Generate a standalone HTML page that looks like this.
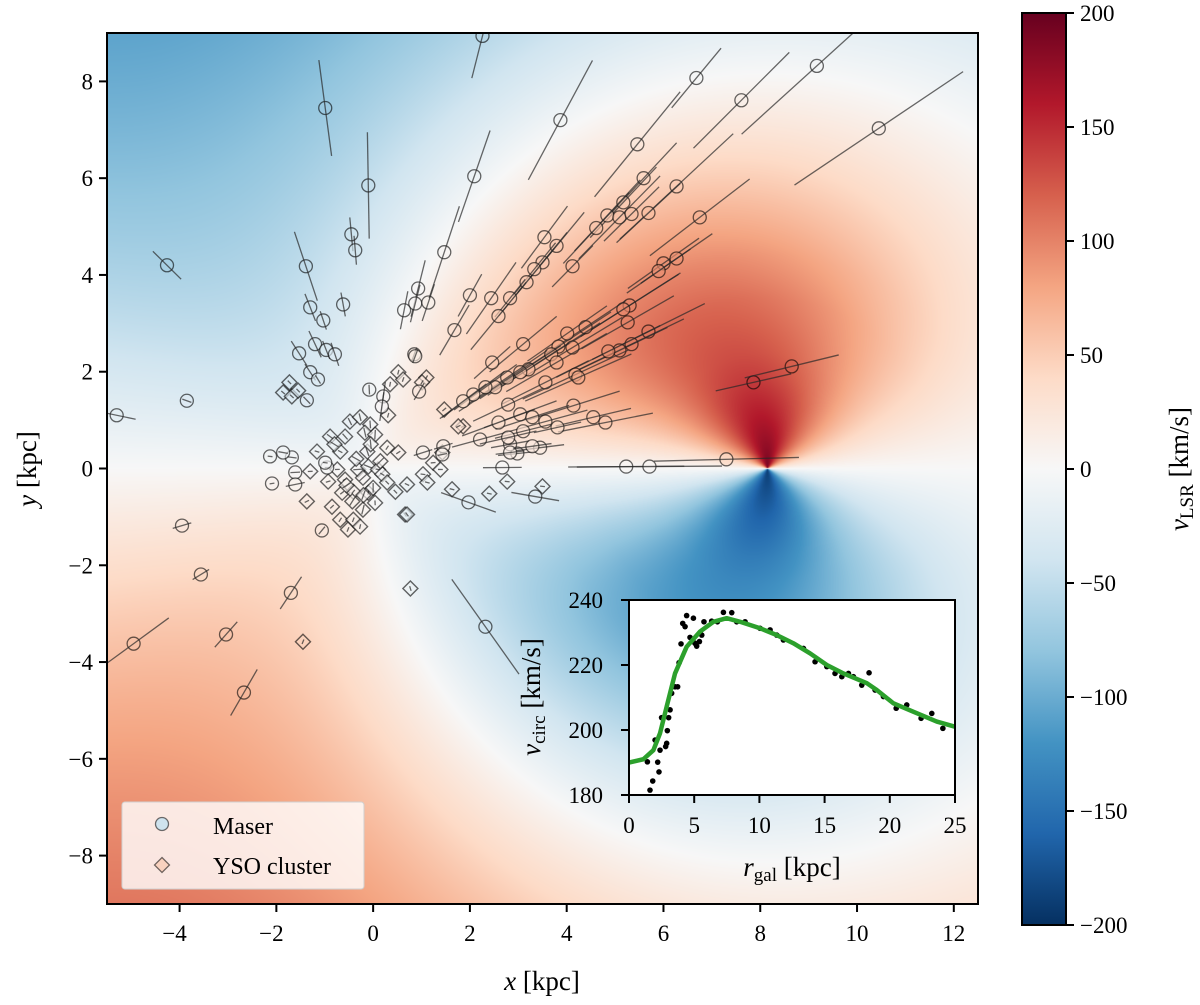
<!DOCTYPE html>
<html><head><meta charset="utf-8"><style>
body{margin:0;background:#fff;width:1200px;height:1005px;overflow:hidden;font-family:"Liberation Serif",serif}
#wrap{position:relative;width:1200px;height:1005px}
canvas{position:absolute;left:107px;top:33px}
svg{position:absolute;left:0;top:0}
text{font-family:"Liberation Serif",serif;fill:#000}
</style></head><body>
<div id="wrap">
<canvas id="field" width="871" height="871"></canvas>
<svg id="svg" width="1200" height="1005"></svg>
</div>
<script>
// ---- data ----
const masersX=[-0.99,-0.1,-0.45,-0.37,-4.26,-1.39,-1.3,-1.03,-0.62,0.93,0.87,1.14,0.64,-1.2,-0.97,-0.79,-1.53,0.85,-5.3,-3.85,-1.3,-1.14,-1.37,0.87,-0.08,0.21,0.18,0.95,-0.95,-2.09,-1.61,-1.68,-1.86,-2.13,-1.06,-1.61,1.03,1.45,1.43,1.97,-0.99,-3.95,-3.56,-1.7,-4.95,-3.04,-2.67,2.32,3.35,2.67,2.98,3.45,2.83,2.26,3.87,2.09,1.47,6.68,9.17,7.61,10.45,5.46,5.59,6.27,5.17,4.84,5.09,5.34,5.69,4.61,6.75,3.54,3.79,3.5,3.33,3.17,4.12,2.0,2.44,2.83,2.59,1.68,6.0,6.27,5.9,5.3,5.17,5.26,5.69,4.39,4.01,3.1,5.34,5.09,4.86,4.12,3.83,3.68,3.79,2.46,3.21,3.04,2.77,2.52,2.32,2.07,1.86,3.56,4.18,4.24,2.79,4.14,4.55,4.8,3.04,3.29,3.56,3.81,2.59,3.1,2.21,2.79,2.83,3.29,5.23,5.71,7.3,7.86,8.65];
const masersY=[7.45,5.85,4.84,4.51,4.2,4.18,3.33,3.06,3.39,3.72,3.41,3.43,3.27,2.57,2.45,2.36,2.38,2.36,1.1,1.4,1.99,1.84,1.41,2.32,1.63,1.49,1.28,1.59,0.02,-0.31,-0.08,0.23,0.33,0.25,-1.28,-0.33,0.33,0.46,0.29,-0.7,0.12,-1.18,-2.19,-2.57,-3.62,-3.43,-4.63,-3.27,-0.58,0.02,0.31,0.43,0.5,8.94,7.2,6.04,4.47,8.07,8.32,7.61,7.03,6.7,6.0,5.83,5.5,5.23,5.19,5.26,5.28,4.97,5.19,4.78,4.6,4.26,4.12,3.85,4.18,3.58,3.52,3.52,3.15,2.86,4.24,4.34,4.08,3.37,3.29,3.02,2.83,2.92,2.79,2.57,2.57,2.44,2.42,2.5,2.52,2.36,2.19,2.19,2.05,1.99,1.88,1.68,1.68,1.53,1.39,1.78,1.94,1.88,1.32,1.3,1.06,0.95,1.12,1.06,0.97,0.85,0.95,0.77,0.6,0.64,0.33,0.46,0.04,0.04,0.19,1.78,2.11];
const masersErr=[1.0,1.1,0.35,0.3,0.41,0.75,0.3,0.2,0.25,0.6,0.4,0.4,0.4,0.3,0.2,0.25,0.3,0.15,0.4,0.1,0.2,0.1,0.1,0.15,0.1,0.3,0.3,0.2,0.05,0.05,0.1,0.1,0.1,0.05,0.1,0.2,0.2,0.2,0.1,0.6,0.05,0.2,0.2,0.4,0.9,0.35,0.55,1.2,0.5,0.4,0.4,0.5,0.4,0.9,1.4,1.0,1.0,0.8,2.1,1.4,2.1,1.4,1.0,1.6,1.0,1.0,1.2,0.8,0.9,1.0,1.3,0.8,0.9,0.8,0.7,0.9,0.6,0.5,0.9,0.5,0.9,0.6,0.9,0.9,0.8,1.2,1.4,1.1,1.3,1.0,1.0,0.9,1.2,1.1,1.2,1.2,1.3,1.2,1.2,0.5,1.0,1.0,1.0,0.9,0.8,0.8,0.6,1.0,1.2,1.2,0.8,1.0,0.8,1.0,0.8,0.8,0.9,0.5,0.8,0.6,0.6,0.6,0.3,0.4,1.2,1.5,1.5,0.8,1.0];
const ysoX=[-1.73,-1.86,-1.68,-1.55,0.31,0.52,0.35,0.62,1.1,1.01,-0.48,-0.27,-0.06,-0.89,-0.58,-0.17,0.04,-1.16,-0.68,-0.12,0.29,0.52,-1.3,-0.74,-0.31,-0.1,0.1,-0.93,-0.58,-0.21,0.19,0.29,-0.64,-0.41,-0.1,0.46,0.7,-1.37,-0.85,-0.43,-0.21,0.04,-0.68,-0.41,-0.52,-0.27,0.66,1.03,1.24,1.39,1.12,1.63,1.86,2.4,2.77,3.5,0.7,-1.45,0.77,1.47,1.76,1.43,-0.35,-0.05,0.15,-0.55,-0.8,0.0,-0.2];
const ysoY=[1.78,1.57,1.49,1.61,1.1,1.99,1.74,1.84,1.88,1.78,0.97,1.06,0.91,0.66,0.66,0.74,0.7,0.35,0.35,0.35,0.43,0.33,-0.06,-0.02,-0.02,0.04,-0.02,-0.27,-0.23,-0.19,-0.12,-0.29,-0.5,-0.48,-0.5,-0.48,-0.33,-0.68,-0.79,-0.68,-0.85,-0.71,-1.06,-1.06,-1.26,-1.2,-0.95,-0.12,0.12,-0.02,-0.29,-0.43,0.87,-0.52,-0.27,-0.37,-0.95,-3.58,-2.48,1.22,0.87,0.33,0.2,0.5,0.15,-0.35,0.5,-0.4,-0.55];
const ysoErr=[0.05,0.05,0.05,0.05,0.05,0.05,0.05,0.05,0.05,0.05,0.08,0.08,0.08,0.08,0.08,0.1,0.1,0.05,0.05,0.1,0.05,0.05,0.05,0.05,0.1,0.1,0.05,0.05,0.05,0.1,0.05,0.05,0.05,0.05,0.05,0.05,0.05,0.05,0.05,0.1,0.1,0.05,0.05,0.05,0.05,0.05,0.05,0.05,0.05,0.05,0.05,0.05,0.05,0.05,0.05,0.05,0.05,0.05,0.05,0.05,0.05,0.05,0.1,0.1,0.1,0.1,0.1,0.1,0.1];
// inset rotation curve
const rcR=[1.41,1.61,1.82,2.0,2.2,2.3,2.38,2.5,2.81,2.89,2.94,3.04,3.15,3.27,3.53,3.73,3.84,3.99,4.12,4.3,4.42,4.68,4.94,5.06,5.19,5.4,5.58,5.75,6.34,6.78,7.24,7.88,8.26,8.9,10.05,10.82,11.33,11.84,13.38,14.27,15.17,15.8,16.32,16.83,17.21,17.85,18.41,18.87,19.51,20.49,21.3,22.4,23.22,24.07];
const rcV=[190.2,181.5,184.3,196.9,190.1,187.1,193.8,203.8,194.9,195.9,199.8,203.8,206.2,211.3,213.3,213.3,220.7,226.5,232.8,231.8,235.2,228.5,234.4,226.7,225.8,227.2,229.2,233.3,233.5,233.3,236.2,236.1,233.3,233.3,231.3,230.8,229.2,227.7,225.1,221.0,219.5,217.4,216.4,217.4,216.4,213.8,217.6,212.3,210.3,206.7,207.7,203.6,205.1,200.5];
const fitR=[0,1.1,1.87,2.38,2.89,3.53,4.42,5.45,6.47,7.49,8.52,10.05,11.33,12.6,13.88,15.17,16.45,18.24,19.0,20.28,21.82,23.6,25];
const fitV=[190,191,193.8,199,207.2,217.4,225.6,230.3,233.3,234.4,233.3,231.3,229.2,226.7,223.6,220,217.4,214.4,212.3,208.2,205.6,202.6,201];
const xTicks=[-4,-2,0,2,4,6,8,10,12];
const yTicks=[-8,-6,-4,-2,0,2,4,6,8];
const cbTicks=[-200,-150,-100,-50,0,50,100,150,200];
const inXTicks=[0,5,10,15,20,25];
const inYTicks=[180,200,220,240];
const R0=8.15;

// ---- scales ----
const PX0=107,PX1=978,PY0=33,PY1=904,XMIN=-5.5,XMAX=12.5,YMIN=-9,YMAX=9;
const sx=x=>PX0+(x-XMIN)/(XMAX-XMIN)*(PX1-PX0);
const sy=y=>PY1-(y-YMIN)/(YMAX-YMIN)*(PY1-PY0);
const IX0=629,IX1=955,IY0=600,IY1=795;
const ix=r=>IX0+r/25*(IX1-IX0);
const iy=v=>IY1-(v-180)/60*(IY1-IY0);
const CBX0=1022,CBX1=1066,CBY0=13,CBY1=925;
const cby=v=>CBY1-(v+200)/400*(CBY1-CBY0);

const cmap=["#053061","#2166ac","#4393c3","#92c5de","#d1e5f0","#f7f7f7","#fddbc7","#f4a582","#d6604d","#b2182b","#67001f"].map(h=>[parseInt(h.slice(1,3),16),parseInt(h.slice(3,5),16),parseInt(h.slice(5,7),16)]);
function col(v){let t=(v+200)/400;t=Math.max(0,Math.min(1,t))*10;const i=Math.min(9,Math.floor(t)),f=t-i;const a=cmap[i],b=cmap[i+1];return [a[0]+(b[0]-a[0])*f,a[1]+(b[1]-a[1])*f,a[2]+(b[2]-a[2])*f];}
function theta(R){if(R<=fitR[0])return fitV[0];for(let i=1;i<fitR.length;i++){if(R<=fitR[i]){const f=(R-fitR[i-1])/(fitR[i]-fitR[i-1]);return fitV[i-1]+f*(fitV[i]-fitV[i-1]);}}return fitV[fitV.length-1];}
const TH0=theta(R0);
function vlsr(x,y){const d=Math.hypot(x,y)||1e-6;const R=Math.max(Math.hypot(x-R0,y),1e-4);return (theta(R)*R0/R-TH0)*(y/d);}

// ---- field ----
const cv=document.getElementById('field'),ctx=cv.getContext('2d');
const img=ctx.createImageData(871,871);
for(let j=0;j<871;j++){const y=YMAX-(j+0.5)/871*(YMAX-YMIN);for(let i=0;i<871;i++){const x=XMIN+(i+0.5)/871*(XMAX-XMIN);const c=col(vlsr(x,y));const k=(j*871+i)*4;img.data[k]=c[0];img.data[k+1]=c[1];img.data[k+2]=c[2];img.data[k+3]=255;}}
ctx.putImageData(img,0,0);

// ---- svg ----
const NS="http://www.w3.org/2000/svg",svg=document.getElementById('svg');
function el(tag,attrs,parent){const e=document.createElementNS(NS,tag);for(const k in attrs)e.setAttribute(k,attrs[k]);(parent||svg).appendChild(e);return e;}
function txt(s,x,y,size,anchor,parent){const t=el('text',{x:x,y:y,'font-size':size,'text-anchor':anchor||'middle'},parent);t.innerHTML=s;return t;}
function rgb(c,a){return `rgba(${c[0]|0},${c[1]|0},${c[2]|0},${a})`;}

const clip=el('clipPath',{id:'mainclip'});el('rect',{x:PX0,y:PY0,width:PX1-PX0,height:PY1-PY0},clip);
const gPts=el('g',{'clip-path':'url(#mainclip)'});


function errLine(x,y,e,g){const d=Math.hypot(x,y);const ux=x/d,uy=y/d;const l=el('line',{x1:sx(ux*(d-e)),y1:sy(uy*(d-e)),x2:sx(ux*(d+e)),y2:sy(uy*(d+e)),stroke:'rgba(40,40,40,0.7)','stroke-width':1.3},g);

}
for(let i=0;i<ysoX.length;i++){const x=ysoX[i],y=ysoY[i];const px=sx(x),py=sy(y);const c=col(vlsr(x,y));
const p=el('polygon',{points:`${px},${py-7.5} ${px+7.5},${py} ${px},${py+7.5} ${px-7.5},${py}`,fill:rgb(c,0.65),stroke:'rgba(0,0,0,0.6)','stroke-width':1.4},gPts);


errLine(x,y,ysoErr[i],gPts);}
for(let i=0;i<masersX.length;i++){const x=masersX[i],y=masersY[i];const c=col(vlsr(x,y));
const m=el('circle',{cx:sx(x),cy:sy(y),r:6.5,fill:rgb(c,0.65),stroke:'rgba(0,0,0,0.6)','stroke-width':1.3},gPts);


errLine(x,y,masersErr[i],gPts);}

// main axes frame & ticks
const frame=el('rect',{x:PX0,y:PY0,width:PX1-PX0,height:PY1-PY0,fill:'none',stroke:'#000','stroke-width':2});


const gx=el('g',{});
xTicks.forEach(t=>{const X=sx(t);el('line',{x1:X,y1:PY1,x2:X,y2:PY1+8,stroke:'#000','stroke-width':2},gx);txt(t<0?'−'+(-t):''+t,X+(t<0?-5:0),941,23,'middle',gx);});
const gy=el('g',{});
yTicks.forEach(t=>{const Y=sy(t);el('line',{x1:PX0-8,y1:Y,x2:PX0,y2:Y,stroke:'#000','stroke-width':2},gy);txt(t<0?'−'+(-t):''+t,93,Y+8,23,'end',gy);});
const xl=txt('<tspan font-style="italic">x</tspan> [kpc]',542,990,27);
const yl=txt('<tspan font-style="italic">y</tspan> [kpc]',0,0,27);yl.setAttribute('transform','translate(36,469) rotate(-90)');

// legend
const lg=el('g',{});
el('rect',{x:122,y:802,width:242,height:87,rx:3,fill:'rgba(255,255,255,0.8)',stroke:'#d0d0d0','stroke-width':1},lg);
const lm=el('circle',{cx:162,cy:824,r:6.5,fill:'#cfe3ee',stroke:'rgba(0,0,0,0.55)','stroke-width':1.3},lg);
const ly=el('polygon',{points:'162,857.5 169.5,865 162,872.5 154.5,865',fill:'#f9d2bf',stroke:'rgba(0,0,0,0.55)','stroke-width':1.3},lg);
const t1=txt('Maser',213,834,24,'start',lg);
const t2=txt('YSO cluster',213,874,24,'start',lg);

// colorbar
const defs=el('defs',{});const lgd=el('linearGradient',{id:'cbg',x1:0,y1:1,x2:0,y2:0},defs);
cmap.forEach((c,i)=>el('stop',{offset:i/10,'stop-color':rgb(c,1)},lgd));
const cb=el('g',{});
el('rect',{x:CBX0,y:CBY0,width:CBX1-CBX0,height:CBY1-CBY0,fill:'url(#cbg)',stroke:'#000','stroke-width':2},cb);
cbTicks.forEach(t=>{const Y=cby(t);el('line',{x1:CBX1,y1:Y,x2:CBX1+8,y2:Y,stroke:'#000','stroke-width':2},cb);txt(t<0?'−'+(-t):''+t,1080,Y+8,23,'start',cb);});
const cbl=txt('<tspan font-style="italic">v</tspan><tspan font-size="19" dy="5">LSR</tspan><tspan dy="-5"> [km/s]</tspan>',0,0,27);cbl.setAttribute('transform','translate(1188,469) rotate(-90)');

// inset
const ins=el('g',{});
el('rect',{x:IX0,y:IY0,width:IX1-IX0,height:IY1-IY0,fill:'#fff'},ins);
const iclip=el('clipPath',{id:'iclip'});el('rect',{x:IX0,y:IY0,width:IX1-IX0,height:IY1-IY0},iclip);
const ig=el('g',{'clip-path':'url(#iclip)'},ins);
for(let i=0;i<rcR.length;i++){const d=el('circle',{cx:ix(rcR[i]),cy:iy(rcV[i]),r:2.8,fill:'#000'},ig);

}
const fit=el('polyline',{points:fitR.map((r,i)=>ix(r)+','+iy(fitV[i])).join(' '),fill:'none',stroke:'#2ca02c','stroke-width':4.5,'stroke-linejoin':'round','stroke-linecap':'round'},ig);


el('rect',{x:IX0,y:IY0,width:IX1-IX0,height:IY1-IY0,fill:'none',stroke:'#000','stroke-width':2},ins);
inXTicks.forEach(t=>{const X=ix(t);el('line',{x1:X,y1:IY1,x2:X,y2:IY1+8,stroke:'#000','stroke-width':2},ins);txt(''+t,X,833,23,'middle',ins);});
inYTicks.forEach(t=>{const Y=iy(t);el('line',{x1:IX0-8,y1:Y,x2:IX0,y2:Y,stroke:'#000','stroke-width':2},ins);txt(''+t,603,Y+8,23,'end',ins);});
const ixl=txt('<tspan font-style="italic">r</tspan><tspan font-size="19" dy="5">gal</tspan><tspan dy="-5"> [kpc]</tspan>',792,876,27,'middle',ins);
const iyl=txt('<tspan font-style="italic">v</tspan><tspan font-size="19" dy="5">circ</tspan><tspan dy="-5"> [km/s]</tspan>',0,0,27,'middle',ins);iyl.setAttribute('transform','translate(540,697) rotate(-90)');
</script>
</body></html>
